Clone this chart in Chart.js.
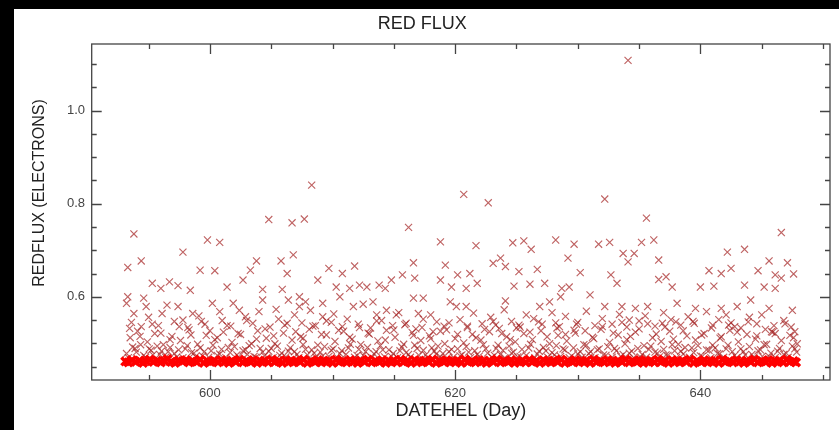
<!DOCTYPE html>
<html>
<head>
<meta charset="utf-8">
<script src="https://cdn.jsdelivr.net/npm/chart.js@4.4.1/dist/chart.umd.min.js"></script>
<style>
  html, body { margin: 0; padding: 0; background: #000; }
  #wrap { position: absolute; left: 14px; top: 9px; width: 825px; height: 421px; background: #fff; }
</style>
</head>
<body>
<div id="wrap"><canvas id="fluxCanvas" width="825" height="421"></canvas></div>
<script>
/* ── Red flux data (day, electrons) ── */

const dayTicks  = [600, 620, 640];
const fluxTicks = [0.6, 0.8, 1.0];
const yTitle    = 'REDFLUX (ELECTRONS)';

// dense baseline band
const bandPoints = [
  [593.10,0.461],[593.35,0.459],[593.65,0.464],[593.95,0.460],[594.25,0.463],[594.55,0.458],[594.80,0.462],[595.10,0.465],
  [595.40,0.460],[595.70,0.463],[596.00,0.459],[596.30,0.462],[596.55,0.466],[596.85,0.460],[597.15,0.458],[597.45,0.463],
  [597.75,0.461],[598.05,0.464],[598.30,0.459],[598.60,0.462],[598.90,0.460],[599.20,0.465],[599.50,0.458],[599.80,0.462],
  [600.05,0.460],[600.35,0.463],[600.65,0.459],[600.95,0.464],[601.25,0.461],[601.55,0.458],[601.80,0.463],[602.10,0.460],
  [602.40,0.465],[602.70,0.459],[603.00,0.462],[603.30,0.460],[603.55,0.464],[603.85,0.458],[604.15,0.461],[604.45,0.463],
  [604.75,0.459],[605.05,0.465],[605.30,0.460],[605.60,0.462],[605.90,0.458],[606.20,0.464],[606.50,0.461],[606.80,0.459],
  [607.05,0.463],[607.35,0.460],[607.65,0.465],[607.95,0.458],[608.25,0.462],[608.55,0.460],[608.80,0.464],[609.10,0.459],
  [609.40,0.461],[609.70,0.463],[610.00,0.458],[610.30,0.465],[610.55,0.460],[610.85,0.462],[611.15,0.459],[611.45,0.464],
  [611.75,0.461],[612.05,0.458],[612.30,0.463],[612.60,0.460],[612.90,0.465],[613.20,0.459],[613.50,0.462],[613.80,0.460],
  [614.05,0.464],[614.35,0.458],[614.65,0.461],[614.95,0.463],[615.25,0.459],[615.55,0.465],[615.80,0.460],[616.10,0.462],
  [616.40,0.458],[616.70,0.464],[617.00,0.461],[617.30,0.459],[617.55,0.463],[617.85,0.460],[618.15,0.465],[618.45,0.458],
  [618.75,0.462],[619.05,0.460],[619.30,0.464],[619.60,0.459],[619.90,0.461],[620.20,0.463],[620.50,0.458],[620.80,0.465],
  [621.05,0.460],[621.35,0.462],[621.65,0.459],[621.95,0.464],[622.25,0.461],[622.55,0.458],[622.80,0.463],[623.10,0.460],
  [623.40,0.465],[623.70,0.459],[624.00,0.462],[624.30,0.460],[624.55,0.464],[624.85,0.458],[625.15,0.461],[625.45,0.463],
  [625.75,0.459],[626.05,0.465],[626.30,0.460],[626.60,0.462],[626.90,0.458],[627.20,0.464],[627.50,0.461],[627.80,0.459],
  [628.05,0.463],[628.35,0.460],[628.65,0.465],[628.95,0.458],[629.25,0.462],[629.55,0.460],[629.80,0.464],[630.10,0.459],
  [630.40,0.461],[630.70,0.463],[631.00,0.458],[631.30,0.465],[631.55,0.460],[631.85,0.462],[632.15,0.459],[632.45,0.464],
  [632.75,0.461],[633.05,0.458],[633.30,0.463],[633.60,0.460],[633.90,0.465],[634.20,0.459],[634.50,0.462],[634.80,0.460],
  [635.05,0.464],[635.35,0.458],[635.65,0.461],[635.95,0.463],[636.25,0.459],[636.55,0.465],[636.80,0.460],[637.10,0.462],
  [637.40,0.458],[637.70,0.464],[638.00,0.461],[638.30,0.459],[638.55,0.463],[638.85,0.460],[639.15,0.465],[639.45,0.458],
  [639.75,0.462],[640.05,0.460],[640.30,0.464],[640.60,0.459],[640.90,0.461],[641.20,0.463],[641.50,0.458],[641.80,0.465],
  [642.05,0.460],[642.35,0.462],[642.65,0.459],[642.95,0.464],[643.25,0.461],[643.55,0.458],[643.80,0.463],[644.10,0.460],
  [644.40,0.465],[644.70,0.459],[645.00,0.462],[645.30,0.460],[645.55,0.464],[645.85,0.458],[646.15,0.461],[646.45,0.463],
  [646.75,0.459],[647.05,0.465],[647.30,0.460],[647.60,0.462],[647.80,0.459]
];

// crowded cloud just above the band
const lowCloud = [
  [593.2,0.478],[593.5,0.512],[593.9,0.489],[594.1,0.526],[594.6,0.474],[594.9,0.503],[595.2,0.485],[595.5,0.521],
  [595.9,0.476],[596.2,0.497],[596.6,0.482],[596.9,0.515],[597.3,0.471],[597.6,0.506],[598.0,0.488],[598.3,0.529],
  [598.7,0.479],[599.0,0.498],[599.4,0.473],[599.7,0.517],[600.1,0.484],[600.4,0.508],[600.8,0.477],[601.1,0.524],
  [601.5,0.491],[601.8,0.502],[602.2,0.475],[602.5,0.519],[602.9,0.486],[603.2,0.495],[603.6,0.472],[603.9,0.527],
  [604.3,0.481],[604.6,0.511],[605.0,0.489],[605.3,0.499],[605.7,0.474],[606.0,0.522],[606.4,0.483],[606.7,0.507],
  [607.1,0.476],[607.4,0.514],[607.8,0.487],[608.1,0.530],[608.5,0.479],[608.8,0.496],[609.2,0.473],[609.5,0.518],
  [609.9,0.485],[610.2,0.504],[610.6,0.478],[610.9,0.526],[611.3,0.490],[611.6,0.509],[612.0,0.474],[612.3,0.497],
  [612.7,0.482],[613.0,0.520],[613.4,0.477],[613.7,0.505],[614.1,0.486],[614.4,0.528],[614.8,0.472],[615.1,0.513],
  [615.5,0.484],[615.8,0.498],[616.2,0.476],[616.5,0.523],[616.9,0.489],[617.2,0.506],[617.6,0.475],[617.9,0.516],
  [618.3,0.483],[618.6,0.494],[619.0,0.478],[619.3,0.529],[619.7,0.487],[620.0,0.510],[620.4,0.473],[620.7,0.501],
  [621.1,0.481],[621.4,0.519],[621.8,0.476],[622.1,0.507],[622.5,0.488],[622.8,0.525],[623.2,0.474],[623.5,0.496],
  [623.9,0.485],[624.2,0.514],[624.6,0.479],[624.9,0.503],[625.3,0.472],[625.6,0.521],[626.0,0.490],[626.3,0.508],
  [626.7,0.477],[627.0,0.527],[627.4,0.484],[627.7,0.499],[628.1,0.475],[628.4,0.517],[628.8,0.488],[629.1,0.505],
  [629.5,0.473],[629.8,0.522],[630.2,0.482],[630.5,0.497],[630.9,0.478],[631.2,0.513],[631.6,0.486],[631.9,0.530],
  [632.3,0.474],[632.6,0.502],[633.0,0.489],[633.3,0.518],[633.7,0.476],[634.0,0.508],[634.4,0.483],[634.7,0.524],
  [635.1,0.471],[635.4,0.495],[635.8,0.487],[636.1,0.512],[636.5,0.479],[636.8,0.504],[637.2,0.475],[637.5,0.526],
  [637.9,0.484],[638.2,0.498],[638.6,0.477],[638.9,0.516],[639.3,0.490],[639.6,0.507],[640.0,0.473],[640.3,0.521],
  [640.7,0.485],[641.0,0.496],[641.4,0.478],[641.7,0.514],[642.1,0.488],[642.4,0.528],[642.8,0.474],[643.1,0.503],
  [643.5,0.482],[643.8,0.519],[644.2,0.476],[644.5,0.509],[644.9,0.486],[645.2,0.497],[645.6,0.472],[645.9,0.524],
  [646.3,0.483],[646.6,0.506],[647.0,0.479],[647.3,0.517],[647.7,0.488],[647.9,0.499]
];

const lowCloud2 = [
  [593.35,0.469],[593.7,0.492],[594.0,0.481],[594.35,0.497],[594.75,0.470],[595.05,0.488],[595.35,0.475],[595.7,0.494],
  [596.05,0.483],[596.4,0.470],[596.75,0.491],[597.1,0.478],[597.45,0.486],[597.8,0.469],[598.15,0.495],[598.5,0.480],
  [598.85,0.472],[599.2,0.490],[599.55,0.482],[599.9,0.470],[600.25,0.496],[600.6,0.474],[600.95,0.487],[601.3,0.469],
  [601.65,0.480],[602.0,0.493],[602.35,0.471],[602.7,0.484],[603.05,0.476],[603.4,0.499],[603.75,0.470],[604.1,0.489],
  [604.45,0.473],[604.8,0.483],[605.15,0.469],[605.5,0.494],[605.85,0.479],[606.2,0.471],[606.55,0.490],[606.9,0.482],
  [607.25,0.469],[607.6,0.497],[607.95,0.475],[608.3,0.486],[608.65,0.470],[609.0,0.481],[609.35,0.493],[609.7,0.472],
  [610.05,0.488],[610.4,0.469],[610.75,0.484],[611.1,0.476],[611.45,0.498],[611.8,0.470],[612.15,0.487],[612.5,0.474],
  [612.85,0.491],[613.2,0.469],[613.55,0.482],[613.9,0.495],[614.25,0.471],[614.6,0.486],[614.95,0.478],[615.3,0.469],
  [615.65,0.492],[616.0,0.480],[616.35,0.470],[616.7,0.496],[617.05,0.474],[617.4,0.485],[617.75,0.469],[618.1,0.490],
  [618.45,0.477],[618.8,0.471],[619.15,0.499],[619.5,0.482],[619.85,0.470],[620.2,0.488],[620.55,0.475],[620.9,0.493],
  [621.25,0.469],[621.6,0.484],[621.95,0.472],[622.3,0.497],[622.65,0.479],[623.0,0.470],[623.35,0.489],[623.7,0.476],
  [624.05,0.469],[624.4,0.494],[624.75,0.481],[625.1,0.471],[625.45,0.487],[625.8,0.474],[626.15,0.498],[626.5,0.469],
  [626.85,0.483],[627.2,0.491],[627.55,0.470],[627.9,0.480],[628.25,0.495],[628.6,0.472],[628.95,0.486],[629.3,0.469],
  [629.65,0.490],[630.0,0.477],[630.35,0.470],[630.7,0.496],[631.05,0.482],[631.4,0.469],[631.75,0.488],[632.1,0.475],
  [632.45,0.493],[632.8,0.470],[633.15,0.484],[633.5,0.472],[633.85,0.499],[634.2,0.479],[634.55,0.469],[634.9,0.489],
  [635.25,0.476],[635.6,0.470],[635.95,0.494],[636.3,0.481],[636.65,0.471],[637.0,0.487],[637.35,0.474],[637.7,0.497],
  [638.05,0.469],[638.4,0.483],[638.75,0.491],[639.1,0.470],[639.45,0.480],[639.8,0.495],[640.15,0.472],[640.5,0.486],
  [640.85,0.469],[641.2,0.490],[641.55,0.477],[641.9,0.470],[642.25,0.496],[642.6,0.482],[642.95,0.469],[643.3,0.488],
  [643.65,0.475],[644.0,0.493],[644.35,0.470],[644.7,0.484],[645.05,0.472],[645.4,0.498],[645.75,0.479],[646.1,0.469],
  [646.45,0.489],[646.8,0.476],[647.15,0.470],[647.5,0.494],[647.85,0.481]
];

const midCloud = [
  [593.6,0.545],[595.0,0.556],[595.8,0.538],[596.5,0.582],[597.1,0.547],[598.2,0.534],[599.1,0.559],[599.6,0.541],
  [600.2,0.586],[601.0,0.549],[601.7,0.537],[602.9,0.557],[603.5,0.543],[604.0,0.568],[604.9,0.535],[605.6,0.552],
  [606.1,0.539],[606.9,0.561],[607.5,0.544],[608.2,0.571],[608.6,0.538],[609.5,0.548],[610.1,0.563],[610.8,0.536],
  [611.2,0.552],[612.1,0.541],[612.5,0.584],[613.1,0.533],[614.0,0.549],[614.9,0.538],[615.4,0.566],[616.0,0.543],
  [616.8,0.531],[617.4,0.552],[618.5,0.546],[619.1,0.537],[619.6,0.589],[620.4,0.551],[621.0,0.534],[621.5,0.565],
  [622.2,0.542],[622.9,0.556],[623.3,0.539],[624.0,0.572],[624.6,0.547],[625.0,0.533],[626.4,0.553],[627.1,0.541],
  [627.9,0.566],[628.5,0.536],[629.0,0.558],[630.0,0.545],[630.7,0.569],[631.4,0.538],[632.0,0.553],[632.8,0.541],
  [633.4,0.562],[634.0,0.535],[635.0,0.548],[635.5,0.559],[636.3,0.537],[637.0,0.566],[637.6,0.551],[638.4,0.539],
  [639.0,0.557],[639.5,0.543],[640.5,0.568],[641.0,0.539],[641.5,0.551],[642.5,0.544],[643.3,0.533],[644.0,0.556],
  [644.6,0.542],[645.0,0.561],[646.0,0.538],[646.8,0.549],[647.4,0.535]
];

const midCloud2 = [
  [593.45,0.532],[594.3,0.515],[595.3,0.541],[596.0,0.522],[596.75,0.508],[597.5,0.536],[598.45,0.518],[599.3,0.547],
  [600.0,0.527],[600.6,0.512],[601.4,0.538],[602.3,0.521],[603.0,0.549],[603.8,0.509],[604.5,0.531],[605.2,0.516],
  [606.3,0.543],[607.0,0.525],[607.6,0.511],[608.4,0.537],[609.1,0.519],[609.9,0.545],[610.5,0.528],[611.4,0.513],
  [612.2,0.534],[612.9,0.522],[613.6,0.548],[614.3,0.507],[615.0,0.529],[615.9,0.540],[616.6,0.517],[617.3,0.534],
  [618.0,0.510],[618.8,0.526],[619.5,0.544],[620.2,0.519],[621.0,0.537],[621.7,0.512],[622.4,0.530],[623.1,0.547],
  [623.8,0.521],[624.5,0.508],[625.2,0.539],[626.1,0.524],[626.8,0.546],[627.5,0.514],[628.3,0.533],[629.0,0.519],
  [629.9,0.541],[630.6,0.527],[631.3,0.510],[632.0,0.536],[632.9,0.522],[633.6,0.545],[634.3,0.515],[635.0,0.531],
  [635.7,0.542],[636.4,0.520],[637.1,0.535],[637.8,0.509],[638.6,0.527],[639.4,0.547],[640.1,0.518],[640.9,0.533],
  [641.6,0.511],[642.3,0.539],[643.0,0.524],[643.9,0.546],[644.6,0.516],[645.3,0.530],[646.1,0.521],[646.9,0.542],
  [647.6,0.512]
];

// sparser excursions
const upperPoints = [
  [593.8,0.735],[593.3,0.663],[594.4,0.677],[597.8,0.696],[599.8,0.722],[600.8,0.717],[604.8,0.766],[606.7,0.759],
  [607.7,0.767],[608.3,0.840],[605.8,0.677],[606.8,0.690],[603.8,0.677],[609.7,0.661],[610.8,0.650],[611.8,0.666],
  [608.8,0.636],[606.3,0.650],[599.2,0.657],[600.4,0.656],[593.3,0.600],[593.2,0.586],[595.3,0.629],[596.0,0.618],
  [596.7,0.632],[597.4,0.624],[598.4,0.614],[601.4,0.621],[602.7,0.636],[603.3,0.657],[604.3,0.616],[605.9,0.616],
  [607.3,0.600],[607.8,0.589],[610.3,0.621],[611.4,0.618],[612.2,0.625],[612.8,0.621],[613.8,0.625],[614.3,0.618],
  [593.8,0.564],[594.6,0.597],[594.8,0.579],[594.4,0.536],[596.1,0.564],[597.4,0.579],[598.6,0.564],[597.8,0.550],
  [600.8,0.568],[601.9,0.586],[602.4,0.571],[604.3,0.593],[605.4,0.573],[606.4,0.593],[607.3,0.579],[609.2,0.586],
  [609.2,0.557],[610.6,0.600],[611.7,0.579],[613.3,0.589],[613.6,0.561],[614.4,0.571],
  [634.1,1.108],[620.7,0.820],[622.7,0.802],[632.2,0.810],[635.6,0.769],[616.2,0.749],[646.6,0.738],[618.8,0.718],
  [621.7,0.710],[624.7,0.716],[625.6,0.720],[626.2,0.702],[628.2,0.722],[629.7,0.713],[631.7,0.713],[632.6,0.717],
  [635.2,0.717],[636.2,0.722],[633.7,0.693],[634.6,0.693],[634.1,0.675],[636.6,0.679],[642.2,0.696],[643.6,0.702],
  [645.6,0.677],[647.1,0.673],[647.6,0.649],[646.1,0.647],[644.7,0.656],[642.5,0.661],[640.7,0.656],[641.7,0.650],
  [629.2,0.683],[630.2,0.652],[626.7,0.659],[625.2,0.654],[623.7,0.683],[623.1,0.672],[624.1,0.665],[621.2,0.650],
  [620.2,0.647],[619.2,0.668],[616.6,0.673],[615.7,0.647],[614.8,0.636],[616.7,0.640],[618.8,0.636],[619.7,0.621],
  [620.9,0.618],[621.8,0.629],[624.8,0.623],[626.1,0.627],[627.3,0.629],[628.7,0.618],[629.3,0.621],[632.7,0.647],
  [633.2,0.629],[636.6,0.637],[637.2,0.643],[637.7,0.621],[640.0,0.621],[641.1,0.623],[643.6,0.625],[645.2,0.621],
  [646.1,0.618],[646.6,0.640],[616.6,0.597],[617.4,0.597],[624.1,0.591],[628.6,0.600],[631.0,0.604],[644.1,0.593],
  [645.6,0.575],[647.5,0.571],[632.2,0.579],[633.6,0.579],[634.7,0.575],[635.7,0.579],[638.1,0.586],[639.6,0.575],
  [641.7,0.575],[643.0,0.579],[626.9,0.579],[627.7,0.589],[620.9,0.579],[620.1,0.579],[618.0,0.561],[617.0,0.564],
  [615.2,0.561],[628.2,0.544],[625.8,0.561],[634.2,0.550],[636.9,0.543],[638.0,0.546],[642.1,0.561],[642.8,0.536],
  [645.8,0.525],[647.7,0.525],[618.2,0.525],[623.6,0.532],[625.3,0.535],[629.7,0.528]
];

const toXY = pts => pts.map(([d, f]) => ({ x: d, y: f }));

/* ── inward ticks + frame, like the IDL-style plot ── */
const frameTicks = {
    id: 'frameTicks',
    afterDatasetsDraw(chart) {
        const { ctx, chartArea: a, scales: { x, y } } = chart;
        ctx.save();
        ctx.strokeStyle = '#444';
        ctx.lineWidth   = 1.3;
        ctx.strokeRect(a.left, a.top, a.right - a.left, a.bottom - a.top);
        ctx.beginPath();
        for (let d = 590; d <= 650; d += 5) {
            if (d < x.min || d > x.max) continue;
            const px  = Math.round(x.getPixelForValue(d)) + 0.5;
            const len = d % 20 === 0 ? 10 : 5;
            ctx.moveTo(px, a.bottom); ctx.lineTo(px, a.bottom - len);
            ctx.moveTo(px, a.top);    ctx.lineTo(px, a.top + len);
        }
        for (let i = 9; i <= 22; i++) {
            const v = i * 0.05;
            if (v < y.min || v > y.max) continue;
            const py  = Math.round(y.getPixelForValue(v)) + 0.5;
            const len = i % 4 === 0 ? 10 : 5;
            ctx.moveTo(a.left, py);  ctx.lineTo(a.left + len, py);
            ctx.moveTo(a.right, py); ctx.lineTo(a.right - len, py);
        }
        ctx.stroke();

        // y axis title sits a bit above the plot centre in the original
        ctx.fillStyle    = '#222';
        ctx.font         = "16px 'Liberation Sans', Arial, sans-serif";
        ctx.textAlign    = 'center';
        ctx.textBaseline = 'middle';
        ctx.translate(26, 184);
        ctx.rotate(-Math.PI / 2);
        ctx.fillText(yTitle, 0, 0);
        ctx.restore();
    },
};

Chart.defaults.font.family = "'Liberation Sans', Arial, sans-serif";

const scatterColor = 'rgba(160, 25, 25, 0.68)';
const cloudStyle   = { pointStyle: 'crossRot', radius: 5, borderWidth: 1.15, borderColor: scatterColor };

new Chart(document.getElementById('fluxCanvas').getContext('2d'), {
    type: 'scatter',
    data: {
        datasets: [
            { label: 'band',  data: toXY(bandPoints),  pointStyle: 'crossRot', radius: 5.5, borderWidth: 3.5, borderColor: '#ff0000' },
            { label: 'upper', data: toXY(upperPoints), ...cloudStyle },
            { label: 'mid',   data: toXY(midCloud),    ...cloudStyle },
            { label: 'mid2',  data: toXY(midCloud2),   ...cloudStyle },
            { label: 'low',   data: toXY(lowCloud),    ...cloudStyle },
            { label: 'low2',  data: toXY(lowCloud2),   ...cloudStyle },
        ],
    },
    options: {
        responsive: false,
        animation: false,
        devicePixelRatio: 1,
        layout: { padding: { left: 0, right: 8.3, top: 0, bottom: 0 } },
        plugins: {
            legend:  { display: false },
            tooltip: { enabled: false },
            title: {
                display: true,
                text: 'RED FLUX',
                color: '#222',
                font: { size: 18, weight: 'normal' },
                padding: { top: 4.2, bottom: 9.2 },
            },
        },
        scales: {
            x: {
                type: 'linear',
                min: 590.36,
                max: 650.57,
                grid:   { display: false, drawTicks: false },
                border: { display: false },
                afterBuildTicks: s => { s.ticks = dayTicks.map(v => ({ value: v })); },
                afterFit: s => { s.height = 50; },
                ticks: { padding: 6, color: '#444', font: { size: 13 }, callback: v => String(v) },
                title: { display: true, text: 'DATEHEL (Day)', color: '#222', font: { size: 18 }, padding: { top: 0, bottom: 8.2 } },
            },
            y: {
                type: 'linear',
                min: 0.4212,
                max: 1.1431,
                grid:   { display: false, drawTicks: false },
                border: { display: false },
                afterBuildTicks: s => { s.ticks = fluxTicks.map(v => ({ value: v })); },
                afterFit: s => { s.width = 77.7; },
                ticks: { padding: 6.7, color: '#444', font: { size: 13 }, callback: v => Number(v).toFixed(1) },
                title: { display: false },
            },
        },
    },
    plugins: [frameTicks],
});
</script>
</body>
</html>
